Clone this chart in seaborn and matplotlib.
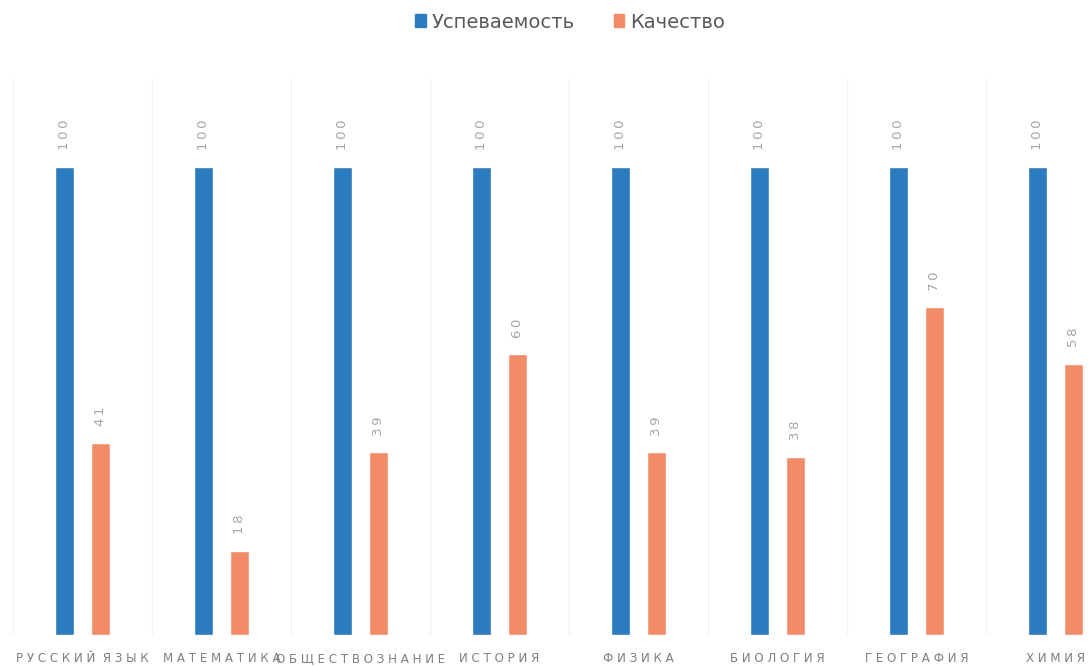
import pandas as pd
import matplotlib.pyplot as plt
import seaborn as sns
from matplotlib.patches import Patch

subjects = ['РУССКИЙ ЯЗЫК', 'МАТЕМАТИКА', 'ОБЩЕСТВОЗНАНИЕ', 'ИСТОРИЯ',
            'ФИЗИКА', 'БИОЛОГИЯ', 'ГЕОГРАФИЯ', 'ХИМИЯ']
uspevaemost = [100, 100, 100, 100, 100, 100, 100, 100]
kachestvo = [41, 18, 39, 60, 39, 38, 70, 58]
series_names = ['Успеваемость', 'Качество']
colors = ['#2C7BBF', '#F28B68']


def spaced(text):
    # имитация разреженного шрифта как в Excel
    return '  '.join(' '.join(word) for word in text.split(' '))


df = pd.DataFrame({
    'subject': subjects * 2,
    'value': uspevaemost + kachestvo,
    'series': [series_names[0]] * len(subjects) + [series_names[1]] * len(subjects),
})

sns.set_style('white')
plt.rcParams['font.family'] = ['DejaVu Sans']

fig = plt.figure(figsize=(10.88, 6.66), dpi=100)
ax = fig.add_axes([0, 31 / 666, 1, 557 / 666])

sns.barplot(data=df, x='subject', y='value', hue='series', order=subjects,
            hue_order=series_names, palette=colors, width=0.52, gap=0.48,
            saturation=1, legend=False, ax=ax)

for container in ax.containers:
    labels = ['\u2009'.join(str(int(v))) for v in container.datavalues]
    ax.bar_label(container, labels=labels, rotation=90, padding=12,
                 fontsize=9.5, color='#a6a6a6')

for b in range(len(subjects) + 1):
    ax.axvline(b - 0.5, color='#f4f4f4', lw=1, zorder=0)

ax.set_xlim(-0.594, 7.234)
ax.set_ylim(0, 100 * 557 / 468)
ax.set_xticks(range(len(subjects)))
ax.set_xticklabels([])
ax.tick_params(axis='x', length=0)
# подписи категорий по базовой линии, чтобы не прыгали
for i, s in enumerate(subjects):
    ax.text(i, -0.049, spaced(s), transform=ax.get_xaxis_transform(),
            ha='center', va='baseline', fontsize=8.6, color='#7f7f7f')
ax.set_yticks([])
ax.set_xlabel('')
ax.set_ylabel('')
for sp in ax.spines.values():
    sp.set_visible(False)

handles = [Patch(color=c, label=n) for c, n in zip(colors, series_names)]
fig.legend(handles=handles, loc='center', bbox_to_anchor=(570 / 1088, 1 - 22 / 666),
           ncol=2, frameon=False, fontsize=14, handlelength=0.55, handleheight=0.6,
           handletextpad=0.3, columnspacing=2.0, labelcolor='#595959')

fig.savefig('out.png', dpi=100)
